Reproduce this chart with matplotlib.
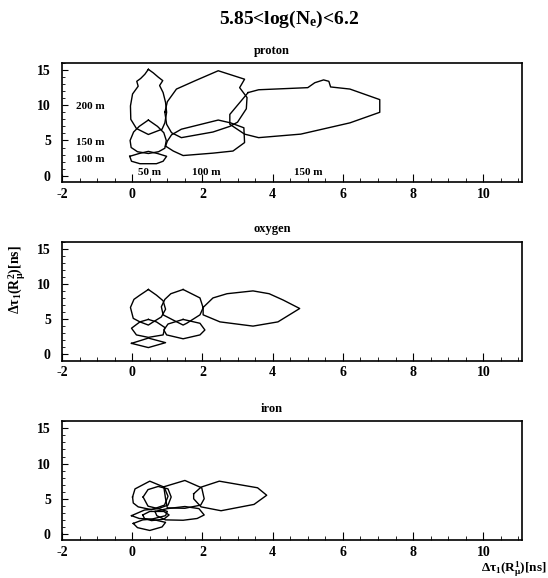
import matplotlib
matplotlib.use("Agg")
import matplotlib.pyplot as plt
from matplotlib.ticker import MultipleLocator
import numpy as np

# contour outlines, named <distance R2>_<distance R1>
proton_200_50_x = [0.46, 0.6, 0.74, 0.87, 0.78, 0.88, 0.95, 0.98, 0.93, 0.85, 0.46, 0.12, -0.04, -0.05, 0.01, 0.17, 0.13, 0.24, 0.36]
proton_200_50_y = [15.1, 14.6, 14.0, 13.5, 12.8, 11.8, 10.4, 9.0, 7.5, 6.6, 5.85, 6.7, 8.0, 9.9, 11.6, 12.7, 13.4, 13.8, 14.4]
proton_150_50_x = [0.46, 0.72, 0.9, 0.97, 0.93, 0.75, 0.46, 0.15, -0.03, -0.06, 0.04, 0.2]
proton_150_50_y = [7.9, 7.0, 6.1, 5.0, 3.9, 3.4, 3.15, 3.4, 4.0, 5.0, 6.2, 7.0]
proton_100_50_x = [-0.07, 0.2, 0.46, 0.72, 0.98, 0.88, 0.69, 0.22, -0.02]
proton_100_50_y = [2.75, 3.15, 3.45, 3.15, 2.75, 2.05, 1.7, 1.7, 2.05]
proton_200_100_x = [0.93, 1.0, 1.26, 1.8, 2.45, 3.2, 3.06, 3.27, 3.25, 3.0, 2.78, 2.3, 1.4, 1.12, 0.98]
proton_200_100_y = [9.0, 10.5, 12.3, 13.5, 14.9, 13.7, 12.5, 11.1, 9.5, 7.6, 7.0, 6.2, 5.4, 6.1, 7.3]
proton_150_100_x = [0.95, 1.0, 1.12, 1.4, 2.45, 2.8, 3.18, 3.2, 2.87, 2.3, 1.45, 1.17]
proton_150_100_y = [4.2, 4.9, 5.8, 6.6, 7.9, 7.5, 6.8, 4.7, 3.5, 3.2, 2.86, 3.5]
proton_200_150_x = [3.3, 3.6, 5.0, 5.2, 5.45, 5.6, 5.65, 6.2, 7.05, 7.05, 6.2, 4.8, 3.6, 3.2, 2.78, 2.78]
proton_200_150_y = [11.8, 12.2, 12.5, 13.2, 13.6, 13.4, 12.6, 12.3, 10.8, 9.0, 7.5, 5.9, 5.4, 5.9, 7.3, 8.7]

oxygen_200_50_x = [0.46, 0.69, 0.88, 0.95, 0.83, 0.6, 0.46, 0.22, 0.03, -0.05, 0.05, 0.22]
oxygen_200_50_y = [9.2, 8.4, 7.6, 6.4, 5.3, 4.6, 4.15, 4.6, 5.1, 6.65, 7.8, 8.4]
oxygen_200_100_x = [1.45, 1.93, 2.02, 1.93, 1.55, 1.45, 1.17, 0.88, 0.83, 0.93, 1.1]
oxygen_200_100_y = [9.2, 8.0, 6.6, 5.6, 4.4, 4.15, 4.85, 5.6, 6.75, 7.8, 8.6]
oxygen_200_150_x = [2.02, 2.3, 2.7, 3.44, 3.9, 4.3, 4.77, 4.15, 3.44, 2.5, 2.02]
oxygen_200_150_y = [6.65, 8.0, 8.6, 9.0, 8.6, 7.7, 6.5, 4.6, 4.0, 4.6, 5.6]
oxygen_150_50_x = [0.46, 0.69, 0.93, 0.88, 0.46, 0.12, -0.02, 0.22]
oxygen_150_50_y = [4.95, 4.6, 3.8, 2.75, 2.4, 2.75, 3.7, 4.6]
oxygen_150_100_x = [1.45, 1.93, 2.07, 1.93, 1.45, 0.98, 0.9, 1.02]
oxygen_150_100_y = [4.95, 4.4, 3.45, 2.75, 2.2, 2.75, 3.45, 4.3]
oxygen_100_50_x = [-0.02, 0.46, 0.95, 0.46]
oxygen_100_50_y = [1.55, 2.3, 1.65, 0.95]

iron_200_50_x = [0.01, 0.08, 0.5, 0.91, 1.02, 0.92, 0.55, 0.17, 0.03]
iron_200_50_y = [5.25, 6.4, 7.5, 6.65, 5.35, 4.1, 3.45, 3.85, 4.4]
iron_200_75_x = [0.31, 0.45, 0.74, 1.02, 1.11, 1.02, 0.74, 0.45]
iron_200_75_y = [5.25, 6.3, 6.75, 6.4, 5.25, 4.1, 3.6, 3.95]
iron_200_100_x = [0.9, 1.5, 1.98, 2.05, 1.95, 1.5, 1.0, 0.95]
iron_200_100_y = [6.7, 7.6, 6.55, 5.0, 4.1, 3.65, 3.7, 5.0]
iron_200_150_x = [1.75, 1.96, 2.48, 3.57, 3.83, 3.47, 2.53, 1.96, 1.75]
iron_200_150_y = [5.7, 6.65, 7.5, 6.56, 5.5, 4.2, 3.3, 3.85, 5.0]
iron_150_50_x = [-0.02, 0.35, 0.75, 1.0, 0.95, 0.55, 0.2]
iron_150_50_y = [2.6, 3.4, 3.6, 3.2, 2.6, 2.1, 2.2]
iron_150_75_x = [0.3, 0.5, 0.9, 1.05, 0.9, 0.55, 0.35]
iron_150_75_y = [2.7, 3.2, 3.2, 2.7, 2.1, 1.9, 2.2]
iron_150_100_x = [0.65, 1.0, 1.5, 1.9, 2.05, 1.85, 1.45, 0.95, 0.7]
iron_150_100_y = [3.2, 3.6, 3.9, 3.6, 2.7, 2.2, 1.95, 2.0, 2.6]
iron_100_50_x = [0.03, 0.3, 0.55, 0.95, 0.85, 0.5, 0.15]
iron_100_50_y = [1.5, 2.0, 2.1, 1.65, 1.0, 0.5, 0.9]

panel_names = ["proton", "oxygen", "iron"]
panel_contours = [
    [(proton_200_50_x, proton_200_50_y), (proton_150_50_x, proton_150_50_y),
     (proton_100_50_x, proton_100_50_y), (proton_200_100_x, proton_200_100_y),
     (proton_150_100_x, proton_150_100_y), (proton_200_150_x, proton_200_150_y)],
    [(oxygen_200_50_x, oxygen_200_50_y), (oxygen_200_100_x, oxygen_200_100_y),
     (oxygen_200_150_x, oxygen_200_150_y), (oxygen_150_50_x, oxygen_150_50_y),
     (oxygen_150_100_x, oxygen_150_100_y), (oxygen_100_50_x, oxygen_100_50_y)],
    [(iron_200_50_x, iron_200_50_y), (iron_200_75_x, iron_200_75_y),
     (iron_200_100_x, iron_200_100_y), (iron_200_150_x, iron_200_150_y),
     (iron_150_50_x, iron_150_50_y), (iron_150_75_x, iron_150_75_y),
     (iron_150_100_x, iron_150_100_y), (iron_100_50_x, iron_100_50_y)],
]

# distance labels in the proton panel
row_labels = ["200 m", "150 m", "100 m"]
row_label_y = [9.8, 4.75, 2.3]
col_labels = ["50 m", "100 m", "150 m"]
col_label_x = [0.5, 2.1, 5.0]

plt.rcParams['font.family'] = ['Liberation Serif', 'DejaVu Serif']
plt.rcParams['font.weight'] = 'bold'
plt.rcParams['axes.unicode_minus'] = False
plt.rcParams['mathtext.fontset'] = 'custom'
plt.rcParams['mathtext.rm'] = 'Liberation Serif:bold'
plt.rcParams['mathtext.it'] = 'Liberation Serif:bold'
plt.rcParams['mathtext.bf'] = 'Liberation Serif:bold'

fig = plt.figure(figsize=(5.48, 5.78), dpi=100)
bottoms = [0.6851, 0.3761, 0.0652]

for i, name in enumerate(panel_names):
    ax = fig.add_axes([0.1131, bottoms[i], 0.8394, 0.2059])
    for cx, cy in panel_contours[i]:
        ax.plot(np.append(cx, cx[0]), np.append(cy, cy[0]), color='black', lw=1.0)
    ax.set_xlim(-2, 11.1)
    ax.set_ylim(-0.9, 16)
    ax.xaxis.set_major_locator(MultipleLocator(2))
    ax.xaxis.set_minor_locator(MultipleLocator(0.5))
    ax.yaxis.set_major_locator(MultipleLocator(5))
    ax.yaxis.set_minor_locator(MultipleLocator(1))
    ax.tick_params(axis='x', which='major', direction='in', length=6, width=0.8, pad=4, labelsize=10)
    ax.tick_params(axis='x', which='minor', direction='in', length=3, width=0.6)
    ax.tick_params(axis='y', which='major', direction='in', length=4, width=0.8, pad=8, labelsize=10)
    ax.tick_params(axis='y', which='minor', direction='in', length=2, width=0.6)
    for s in ax.spines.values():
        s.set_linewidth(1.2)
    ax.text(0.496, bottoms[i] + 0.2059 + 0.021, name, transform=fig.transFigure,
            ha='center', va='center', fontsize=9)
    if name == "proton":
        for lab, yy in zip(row_labels, row_label_y):
            ax.text(-1.2, yy, lab, ha='center', va='center', fontsize=8)
        for lab, xx in zip(col_labels, col_label_x):
            ax.text(xx, 0.4, lab, ha='center', va='center', fontsize=8)

fig.text(0.528, 0.967, r"5.85<log(N$_{\mathrm{e}}$)<6.2", ha='center', va='center', fontsize=14)
fig.text(0.031, 0.517, r"$\Delta\tau_{1}(\mathrm{R}^{2}_{\mu})[\mathrm{ns}]$", rotation=90,
         ha='center', va='center', fontsize=10)
fig.text(0.998, 0.015, r"$\Delta\tau_{1}(\mathrm{R}^{1}_{\mu})[\mathrm{ns}]$",
         ha='right', va='center', fontsize=9.5)

fig.savefig("out.png", dpi=100)
